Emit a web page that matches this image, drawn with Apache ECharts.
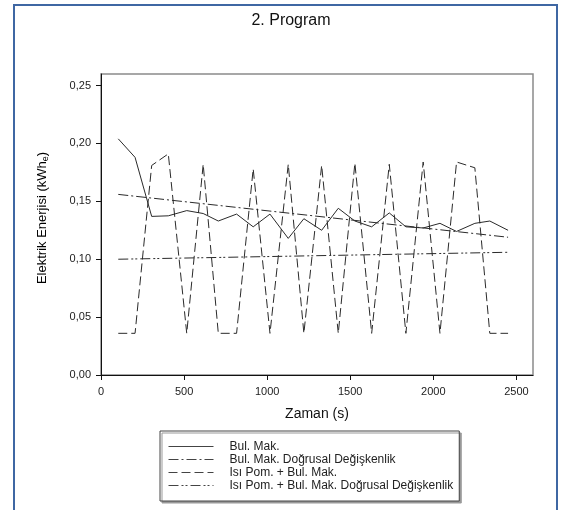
<!DOCTYPE html>
<html>
<head>
<meta charset="utf-8">
<script src="https://cdn.jsdelivr.net/npm/echarts@6/dist/echarts.min.js"></script>
<style>
html,body{margin:0;padding:0;background:#fff;}
#c{width:563px;height:510px;}
</style>
</head>
<body>
<div id="c"></div>
<script>
// ---- data ----
var times = [104, 205, 305, 405, 516, 615, 706, 816, 916, 1017, 1127, 1221, 1328, 1428, 1528, 1629, 1735, 1835, 1939, 2040, 2140, 2250, 2340, 2450];
var bulMak = [0.204, 0.188, 0.137, 0.1375, 0.142, 0.1395, 0.133, 0.139, 0.128, 0.139, 0.118, 0.135, 0.125, 0.144, 0.133, 0.128, 0.140, 0.128, 0.127, 0.131, 0.124, 0.131, 0.133, 0.125];
var isiPom = [0.036, 0.036, 0.181, 0.191, 0.036, 0.182, 0.036, 0.036, 0.178, 0.036, 0.182, 0.036, 0.181, 0.036, 0.183, 0.036, 0.182, 0.036, 0.184, 0.036, 0.184, 0.179, 0.036, 0.036];
var trendTimes = [104, 2450];
var bulMakTrend = [0.156, 0.119];
var isiPomTrend = [0.100, 0.106];
var xTicks = [0, 500, 1000, 1500, 2000, 2500];
var yTicks = [0, 0.05, 0.10, 0.15, 0.20, 0.25];
var seriesNames = ['Bul. Mak.', 'Bul. Mak. Doğrusal Değişkenlik', 'Isı Pom. + Bul. Mak.', 'Isı Pom. + Bul. Mak. Doğrusal Değişkenlik'];

function pairs(xs, ys){ return xs.map(function(x,i){ return [x, ys[i]]; }); }

var FONT = '"Liberation Sans", Arial, sans-serif';
var chart = echarts.init(document.getElementById('c'), null, {renderer:'canvas'});

function lineSeries(name, data, dash){
  return {
    name: name, type: 'line', data: data, symbol: 'none', showSymbol: false,
    animation: false,
    lineStyle: {color: '#2a2a2a', width: 1, type: dash},
    itemStyle: {color: '#2a2a2a'}
  };
}

chart.setOption({
  backgroundColor: '#fff',
  animation: false,
  grid: {left: 101, top: 74, right: 30, bottom: 135, show: true, borderColor: '#8a8a8a', borderWidth: 1.5, backgroundColor: 'transparent'},
  xAxis: {
    type: 'value', min: 0, max: 2600, interval: 500,
    name: 'Zaman (s)', nameLocation: 'middle', nameGap: 32,
    nameTextStyle: {fontFamily: FONT, fontSize: 14, color: '#111'},
    axisLine: {show: true, lineStyle: {color: '#111', width: 1}},
    axisTick: {show: true, inside: false, length: 5, lineStyle: {color: '#111'}, customValues: xTicks},
    axisLabel: {fontFamily: FONT, fontSize: 11, color: '#222', margin: 11, customValues: xTicks,
      formatter: function(v){ return String(v); }},
    splitLine: {show: false}
  },
  yAxis: {
    type: 'value', min: 0, max: 0.26, interval: 0.05,
    axisLine: {show: true, lineStyle: {color: '#111', width: 1}},
    axisTick: {show: true, inside: false, length: 5, lineStyle: {color: '#111'}, customValues: yTicks},
    axisLabel: {fontFamily: FONT, fontSize: 11, color: '#222', margin: 10, customValues: yTicks,
      formatter: function(v){ return v.toFixed(2).replace('.', ','); }},
    splitLine: {show: false}
  },
  legend: {
    orient: 'vertical', left: 160, top: 431,
    data: seriesNames,
    itemWidth: 45, itemHeight: 10, itemGap: 0,
    padding: [9, 6, 9, 8],
    backgroundColor: '#fff', borderColor: '#444', borderWidth: 1,
    shadowColor: '#999', shadowBlur: 0, shadowOffsetX: 2, shadowOffsetY: 2,
    itemStyle: {opacity: 0},
    lineStyle: {width: 1, color: '#444'},
    textStyle: {fontFamily: FONT, fontSize: 12, color: '#222', lineHeight: 13, padding: [0, 0, 0, 11]},
    selectedMode: false
  },
  graphic: [
    {type: 'rect', shape: {x: 14, y: 5, width: 543, height: 520}, style: {fill: 'none', stroke: '#3f67a3', lineWidth: 2}, silent: true, z: 100},
    {type: 'text', x: 291, y: 21, style: {text: '2. Program', font: '16px ' + FONT, fill: '#111', textAlign: 'center', textVerticalAlign: 'middle'}, silent: true},
    {type: 'text', x: 42, y: 218, rotation: Math.PI / 2,
      style: {
        text: '{a|Elektrik Enerjisi (kWh}{s|e}{a|)}',
        textAlign: 'center', textVerticalAlign: 'middle',
        rich: {
          a: {fontFamily: FONT, fontSize: 13, color: '#111', lineHeight: 16, verticalAlign: 'middle'},
          s: {fontFamily: FONT, fontSize: 9, color: '#111', lineHeight: 9, verticalAlign: 'bottom'}
        }
      }, silent: true}
  ],
  series: [
    lineSeries(seriesNames[0], pairs(times, bulMak), 'solid'),
    lineSeries(seriesNames[1], pairs(trendTimes, bulMakTrend), [10, 3, 2, 3]),
    lineSeries(seriesNames[2], pairs(times, isiPom), [9, 4]),
    lineSeries(seriesNames[3], pairs(trendTimes, isiPomTrend), [10, 3, 2, 2, 2, 3])
  ]
});
</script>
</body>
</html>
